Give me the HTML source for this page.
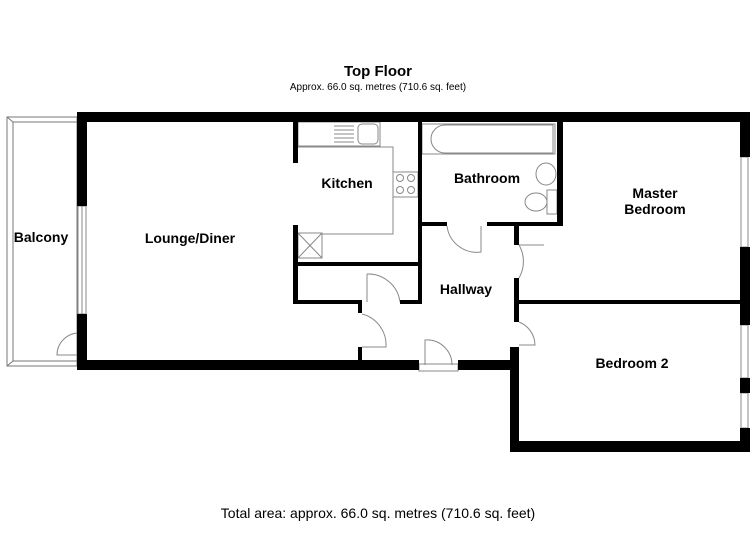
<!DOCTYPE html>
<html><head><meta charset="utf-8"><style>body{margin:0;background:#fff}svg{display:block}</style></head><body>
<svg width="756" height="550" viewBox="0 0 756 550" xmlns="http://www.w3.org/2000/svg" font-family="Liberation Sans, Arial, sans-serif">
<rect width="756" height="550" fill="#fff"/>
<text x="378" y="76" text-anchor="middle" font-size="15" font-weight="bold">Top Floor</text>
<text x="378" y="90" text-anchor="middle" font-size="10">Approx. 66.0 sq. metres (710.6 sq. feet)</text>
<text x="378" y="518" text-anchor="middle" font-size="14">Total area: approx. 66.0 sq. metres (710.6 sq. feet)</text>
<!-- balcony -->
<g fill="none" stroke="#777" stroke-width="1">
<rect x="7" y="117" width="70" height="249"/>
<polyline points="77,122 13,122 13,361 77,361"/>
<line x1="7" y1="117" x2="13" y2="122"/><line x1="7" y1="366" x2="13" y2="361"/>
</g>
<!-- fixtures -->
<g fill="none" stroke="#888" stroke-width="1">
<rect x="78" y="206" width="8" height="108"/><line x1="82" y1="206" x2="82" y2="314"/>
<path d="M79,355 L57,355 A22,22 0 0 1 79,333"/>
<rect x="298" y="122" width="82" height="24"/>
<rect x="358" y="124" width="20" height="20" rx="4"/>
<line x1="334" y1="126" x2="354" y2="126"/><line x1="334" y1="130" x2="354" y2="130"/><line x1="334" y1="134" x2="354" y2="134"/><line x1="334" y1="138" x2="354" y2="138"/><line x1="334" y1="142" x2="354" y2="142"/>
<polyline points="298,147 393,147 393,234 322,234 322,258"/>
<rect x="393" y="172" width="25" height="25"/>
<circle cx="400" cy="178" r="3.5"/><circle cx="411" cy="178" r="3.5"/><circle cx="400" cy="190" r="3.5"/><circle cx="411" cy="190" r="3.5"/>
<rect x="298" y="233" width="24" height="25"/><line x1="298" y1="233" x2="322" y2="258"/><line x1="322" y1="233" x2="298" y2="258"/>
<!-- bath -->
<rect x="422" y="124" width="133" height="30"/>
<path d="M445,125 L553,125 L553,153 L445,153 A14,14 0 0 1 445,125Z"/>
<ellipse cx="546" cy="174" rx="10" ry="11"/>
<ellipse cx="536" cy="202" rx="11" ry="9"/><rect x="547" y="190" width="10" height="24"/>
<!-- doors -->
<path d="M447,226 A30,30 0 0 0 481,252 L481,226"/>
<path d="M519,245 A33,33 0 0 1 519,278"/><line x1="519" y1="245" x2="544" y2="245"/>
<path d="M519,322 A25,25 0 0 1 535,345 L519,345"/>
<path d="M367,274 A32,32 0 0 1 400,302 L400,300"/><line x1="367" y1="274" x2="367" y2="302"/>
<path d="M362,314 A32,32 0 0 1 386,347 L362,347"/>
<path d="M425,365 L425,340 A25,25 0 0 1 452,365"/>
<rect x="419" y="364" width="39" height="7"/>
<rect x="741" y="157" width="7" height="90"/><rect x="741" y="325" width="7" height="53"/><rect x="741" y="393" width="7" height="35"/>
</g>
<!-- walls -->
<g fill="#000">
<rect x="77" y="112" width="673" height="10"/>
<rect x="77" y="112" width="10" height="94"/>
<rect x="77" y="314" width="10" height="56"/>
<rect x="77" y="360" width="342" height="10"/>
<rect x="458" y="360" width="61" height="10"/>
<rect x="293" y="122" width="5" height="41"/>
<rect x="293" y="225" width="5" height="79"/>
<rect x="293" y="262" width="129" height="4"/>
<rect x="293" y="300" width="69" height="4"/>
<rect x="400" y="300" width="22" height="4"/>
<rect x="358" y="300" width="4" height="13"/>
<rect x="358" y="347" width="4" height="14"/>
<rect x="418" y="112" width="4" height="192"/>
<rect x="557" y="112" width="6" height="114"/>
<rect x="418" y="222" width="29" height="4"/>
<rect x="487" y="222" width="76" height="4"/>
<rect x="514" y="226" width="5" height="19"/>
<rect x="514" y="278" width="5" height="44"/>
<rect x="510" y="347" width="9" height="105"/>
<rect x="519" y="300" width="223" height="4"/>
<rect x="740" y="112" width="10" height="45"/>
<rect x="740" y="247" width="10" height="78"/>
<rect x="740" y="378" width="10" height="15"/>
<rect x="740" y="428" width="10" height="24"/>
<rect x="510" y="441" width="240" height="11"/>
</g>
<g font-weight="bold" font-size="14" text-anchor="middle">
<text x="41" y="242">Balcony</text>
<text x="190" y="243">Lounge/Diner</text>
<text x="347" y="188">Kitchen</text>
<text x="487" y="183">Bathroom</text>
<text x="655" y="198">Master</text>
<text x="655" y="214">Bedroom</text>
<text x="466" y="294">Hallway</text>
<text x="632" y="368">Bedroom 2</text>
</g>
</svg>
</body></html>
